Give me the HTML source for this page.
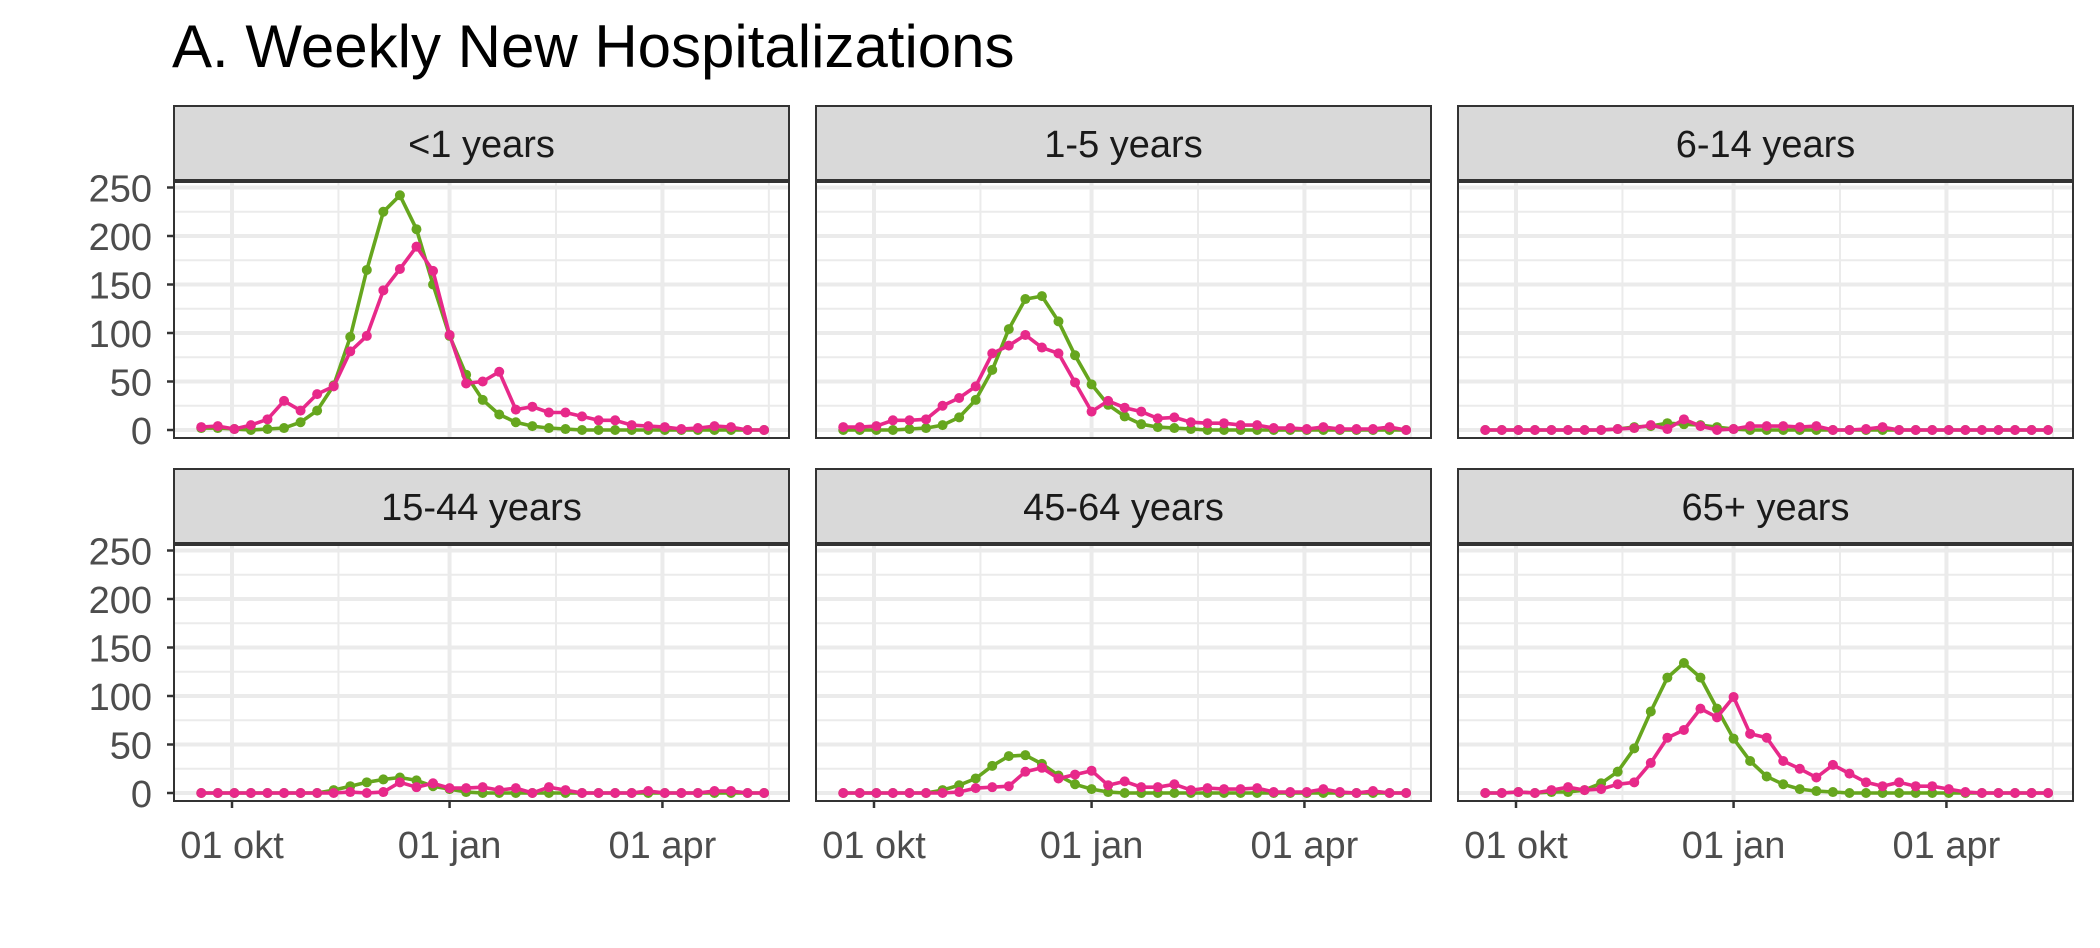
<!DOCTYPE html>
<html><head><meta charset="utf-8"><style>
html,body{margin:0;padding:0;background:#fff;}
svg{display:block;font-family:"Liberation Sans",Arial,sans-serif;}
</style></head><body>
<svg id="chart" width="2100" height="948" viewBox="0 0 2100 948">
<rect width="2100" height="948" fill="#fff"/>
<text x="172" y="67" font-size="60" fill="#000">A. Weekly New Hospitalizations</text>
</svg>
<script>
const weeks = ["2022-09-18","2022-09-25","2022-10-02","2022-10-09","2022-10-16","2022-10-23","2022-10-30","2022-11-06","2022-11-13","2022-11-20","2022-11-27","2022-12-04","2022-12-11","2022-12-18","2022-12-25","2023-01-01","2023-01-08","2023-01-15","2023-01-22","2023-01-29","2023-02-05","2023-02-12","2023-02-19","2023-02-26","2023-03-05","2023-03-12","2023-03-19","2023-03-26","2023-04-02","2023-04-09","2023-04-16","2023-04-23","2023-04-30","2023-05-07","2023-05-14"];
const panelTitles = ["<1 years","1-5 years","6-14 years","15-44 years","45-64 years","65+ years"];
const green0 = [2,2,1,0,1,2,8,20,46,96,165,225,242,207,150,97,57,31,16,8,4,2,1,0,0,0,0,0,0,0,0,0,0,0,0];
const pink0  = [3,4,1,5,11,30,20,37,45,81,97,144,166,189,164,98,48,50,60,21,24,18,18,14,10,10,5,4,3,1,2,4,3,0,0];
const green1 = [0,0,0,0,1,2,5,13,31,62,104,135,138,112,77,47,26,14,6,3,2,1,0,0,0,0,0,0,0,0,0,0,0,0,0];
const pink1  = [3,3,4,10,10,11,25,33,45,79,87,98,85,79,49,19,30,23,19,12,13,8,7,7,5,5,2,2,1,3,1,1,1,3,0];
const green2 = [0,0,0,0,0,0,0,0,1,3,4,7,6,5,3,1,0,0,0,0,0,0,0,0,0,0,0,0,0,0,0,0,0,0,0];
const pink2  = [0,0,0,0,0,0,0,0,1,2,5,1,11,4,0,1,4,4,4,3,4,0,0,1,3,0,0,0,0,0,0,0,0,0,0];
const green3 = [0,0,0,0,0,0,0,0,3,7,11,14,16,13,7,4,1,0,0,0,0,0,0,0,0,0,0,0,0,0,0,0,0,0,0];
const pink3  = [0,0,0,0,0,0,0,0,0,1,0,1,11,6,10,5,5,6,3,5,0,6,3,0,0,0,0,2,0,0,0,2,2,0,0];
const green4 = [0,0,0,0,0,0,3,8,15,28,38,39,30,18,9,4,1,0,0,0,0,0,0,0,0,0,0,0,0,0,0,0,0,0,0];
const pink4  = [0,0,0,0,0,0,0,1,5,6,7,22,26,15,19,23,8,12,6,6,9,3,5,4,4,5,1,1,1,4,1,0,2,0,0];
const green5 = [0,0,1,0,1,1,3,10,22,46,84,119,134,119,87,56,33,17,9,4,2,1,0,0,0,0,0,0,0,0,0,0,0,0,0];
const pink5  = [0,0,1,0,3,6,3,4,9,11,31,57,65,87,78,99,61,57,33,25,16,29,20,11,7,11,7,7,4,1,0,0,0,0,0];
const greenSeries = [green0,green1,green2,green3,green4,green5];
const pinkSeries = [pink0,pink1,pink2,pink3,pink4,pink5];
const yTicks = [0,50,100,150,200,250];
const yMinor = [25,75,125,175,225];
const xTickLabels = ["01 okt","01 jan","01 apr"];
const xTickDates = ["2022-10-01","2023-01-01","2023-04-01"];
const xMinorDates = ["2022-11-15","2023-02-15","2023-05-16"];

const NS="http://www.w3.org/2000/svg";
const svg=document.getElementById('chart');
function mk(tag,attrs,parent){const e=document.createElementNS(NS,tag);for(const k in attrs)e.setAttribute(k,attrs[k]);(parent||svg).appendChild(e);return e;}
const cols=[174,816,1458], PW=615;
const rows=[{strip:106,top:182,zero:430},{strip:469,top:545,zero:793}];
const PH=256;
const origin=Date.UTC(2022,9,1);
function dayOf(s){const p=s.split('-');return (Date.UTC(+p[0],+p[1]-1,+p[2])-origin)/86400000;}
function xScale(left,s){return left+58+dayOf(s)*2.365;}
function yScale(r,v){return r.zero-v*0.97;}

for(let i=0;i<6;i++){
  const left=cols[i%3], r=rows[Math.floor(i/3)];
  const g=mk('g',{});
  
  
  const st=mk('rect',{x:left,y:r.strip,width:PW,height:r.top-r.strip-2,fill:'#d9d9d9',stroke:'#333','stroke-width':2},g);
  
  
  const stt=mk('text',{x:left+PW/2,y:r.strip+51,'font-size':38,'text-anchor':'middle',fill:'#1a1a1a'},g);
  stt.textContent=panelTitles[i];
  
  
  yMinor.forEach(v=>{mk('line',{x1:left,x2:left+PW,y1:yScale(r,v),y2:yScale(r,v),stroke:'#ebebeb','stroke-width':2},g);});
  xMinorDates.forEach(d=>{const x=xScale(left,d);if(x<left+PW)mk('line',{x1:x,x2:x,y1:r.top,y2:r.top+PH,stroke:'#ebebeb','stroke-width':2},g);});
  yTicks.forEach(v=>{mk('line',{x1:left,x2:left+PW,y1:yScale(r,v),y2:yScale(r,v),stroke:'#ebebeb','stroke-width':4},g);});
  xTickDates.forEach(d=>{const x=xScale(left,d);mk('line',{x1:x,x2:x,y1:r.top,y2:r.top+PH,stroke:'#ebebeb','stroke-width':4},g);});
  [[greenSeries[i],'#66a61e','green'],[pinkSeries[i],'#e7298a','pink']].forEach(([vals,col,nm])=>{
    const pts=vals.map((v,k)=>xScale(left,weeks[k]).toFixed(1)+','+yScale(r,v).toFixed(1)).join(' ');
    const pl=mk('polyline',{points:pts,fill:'none',stroke:col,'stroke-width':3.6,'stroke-linejoin':'round'},g);
    
    
    vals.forEach((v,k)=>{
      const c=mk('circle',{cx:xScale(left,weeks[k]),cy:yScale(r,v),r:5,fill:col},g);
      
      
    });
  });
  mk('rect',{x:left,y:r.top,width:PW,height:PH,fill:'none',stroke:'#333','stroke-width':2},g);
  if(i%3===0){
    yTicks.forEach(v=>{
      const y=yScale(r,v);
      mk('line',{x1:167,x2:174,y1:y,y2:y,stroke:'#333','stroke-width':2.5},g);
      const t=mk('text',{x:152,y:y+14,'font-size':38,'text-anchor':'end',fill:'#4d4d4d'},g);
      t.textContent=v;
      
      
    });
  }
  if(i>=3){
    xTickDates.forEach((d,k)=>{
      const x=xScale(left,d);
      mk('line',{x1:x,x2:x,y1:r.top+PH,y2:r.top+PH+7,stroke:'#333','stroke-width':2.5},g);
      const t=mk('text',{x:x,y:858,'font-size':38,'text-anchor':'middle',fill:'#4d4d4d'},g);
      t.textContent=xTickLabels[k];
      
      
    });
  }
}
</script>
</body></html>
